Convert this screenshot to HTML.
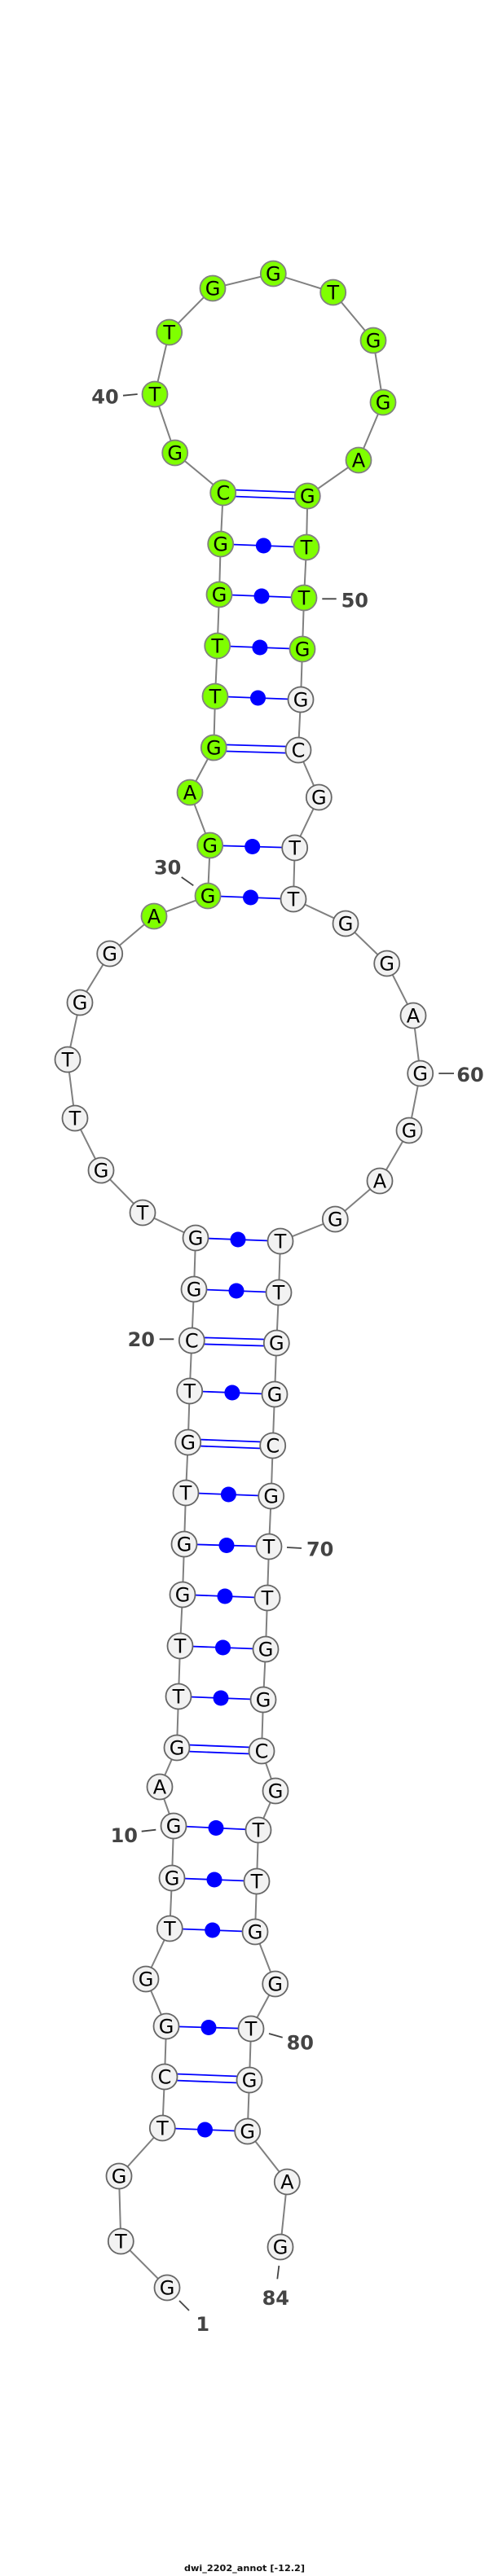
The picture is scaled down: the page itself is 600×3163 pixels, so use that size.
<!DOCTYPE html>
<html><head><meta charset="utf-8"><title>dwi_2202_annot</title>
<style>
html,body{margin:0;padding:0;background:#fff;width:600px;height:3163px;overflow:hidden}
svg{display:block}
.b{fill:none;stroke:#808080;stroke-width:2}
.p{stroke:#0000ff;stroke-width:1.8;fill:none}
.d{fill:#0000ff}
.w circle{fill:#f2f2f2;stroke:#666;stroke-width:1.8}
.g circle{fill:#7fff00;stroke:#808080;stroke-width:1.8}
.n text{font:24px "DejaVu Sans",sans-serif;fill:#000;text-anchor:middle}
.t{stroke:#444;stroke-width:1.8}
.l text{font:bold 24px "DejaVu Sans",sans-serif;fill:#444;text-anchor:middle}
.c{font:bold 11px "DejaVu Sans",sans-serif;fill:#111}
</style></head><body>
<svg width="600" height="3163" viewBox="0 0 600 3163" xmlns="http://www.w3.org/2000/svg">
<rect width="600" height="3163" fill="#fff"/>
<polyline class="b" points="205,2809 148.3,2752 146,2672 199.3,2613 202,2550 204,2488 179,2430 208.3,2368 211,2306 213,2242 196,2194 217,2146 219,2083 221,2021 224,1958 226,1896 228,1833 230.7,1771 232.7,1708 235.3,1646 238,1583 240,1520 175,1489 124,1437 92,1373 83,1301 98,1231 134.7,1171 189,1125 255,1100 257.7,1038 233,973 262.3,918 264,855 266.7,793 269,730 270.7,668 273.7,605 214.7,556 190,484 207.7,408 261,354 335.3,336 408.7,359 458,418 470,494 440,565 377.3,609 376,672 373,734 371,797 369,859 366,921 391.3,979 361.7,1041 360,1104 424,1134 474.7,1183 507,1247 515.7,1318 502,1388 466,1450 411.3,1497 344,1524 342,1587 339.3,1649 337,1712 334.7,1775 332.7,1837 330,1899 328,1962 326,2025 323,2087 321,2150 338,2199 317,2247 315,2310 313,2372 337.7,2436 308,2491 306,2554 303.7,2617 352.3,2679 344,2759"/>
<!-- double pairs -->
<g class="p">
<line x1="273.8" y1="601" x2="377.4" y2="605"/><line x1="273.6" y1="609" x2="377.2" y2="613"/>
<line x1="262.4" y1="914" x2="366.1" y2="917"/><line x1="262.2" y1="922" x2="365.9" y2="925"/>
<line x1="235.4" y1="1642" x2="339.4" y2="1645"/><line x1="235.2" y1="1650" x2="339.2" y2="1653"/>
<line x1="230.8" y1="1767" x2="334.8" y2="1771"/><line x1="230.6" y1="1775" x2="334.6" y2="1779"/>
<line x1="217.1" y1="2142" x2="321.1" y2="2146"/><line x1="216.9" y1="2150" x2="320.9" y2="2154"/>
<line x1="202.1" y1="2546" x2="306.1" y2="2550"/><line x1="201.9" y1="2554" x2="305.9" y2="2558"/>
<!-- dot pairs -->
<line x1="270.7" y1="668" x2="376" y2="672"/>
<line x1="269" y1="730" x2="373" y2="734"/>
<line x1="266.7" y1="793" x2="371" y2="797"/>
<line x1="264" y1="855" x2="369" y2="859"/>
<line x1="257.7" y1="1038" x2="361.7" y2="1041"/>
<line x1="255" y1="1100" x2="360" y2="1104"/>
<line x1="240" y1="1520" x2="344" y2="1524"/>
<line x1="238" y1="1583" x2="342" y2="1587"/>
<line x1="232.7" y1="1708" x2="337" y2="1712"/>
<line x1="228" y1="1833" x2="332.7" y2="1837"/>
<line x1="226" y1="1896" x2="330" y2="1899"/>
<line x1="224" y1="1958" x2="328" y2="1962"/>
<line x1="221" y1="2021" x2="326" y2="2025"/>
<line x1="219" y1="2083" x2="323" y2="2087"/>
<line x1="213" y1="2242" x2="317" y2="2247"/>
<line x1="211" y1="2306" x2="315" y2="2310"/>
<line x1="208.3" y1="2368" x2="313" y2="2372"/>
<line x1="204" y1="2488" x2="308" y2="2491"/>
<line x1="199.3" y1="2613" x2="303.7" y2="2617"/>
</g>
<g class="d">
<circle cx="323.4" cy="670" r="9.5"/>
<circle cx="321" cy="732" r="9.5"/>
<circle cx="318.9" cy="795" r="9.5"/>
<circle cx="316.5" cy="857" r="9.5"/>
<circle cx="309.7" cy="1039.5" r="9.5"/>
<circle cx="307.5" cy="1102" r="9.5"/>
<circle cx="292" cy="1522" r="9.5"/>
<circle cx="290" cy="1585" r="9.5"/>
<circle cx="284.9" cy="1710" r="9.5"/>
<circle cx="280.4" cy="1835" r="9.5"/>
<circle cx="278" cy="1897.5" r="9.5"/>
<circle cx="276" cy="1960" r="9.5"/>
<circle cx="273.5" cy="2023" r="9.5"/>
<circle cx="271" cy="2085" r="9.5"/>
<circle cx="265" cy="2244.5" r="9.5"/>
<circle cx="263" cy="2308" r="9.5"/>
<circle cx="260.7" cy="2370" r="9.5"/>
<circle cx="256" cy="2489.5" r="9.5"/>
<circle cx="251.5" cy="2615" r="9.5"/>
</g>
<!-- unpaired and paired nodes: white -->
<g class="n w">
<circle cx="205" cy="2809" r="15.5"/><text x="205" y="2817.5">G</text>
<circle cx="148.3" cy="2752" r="15.5"/><text x="148.3" y="2760.5">T</text>
<circle cx="146" cy="2672" r="15.5"/><text x="146" y="2680.5">G</text>
<circle cx="199.3" cy="2613" r="15.5"/><text x="199.3" y="2621.5">T</text>
<circle cx="202" cy="2550" r="15.5"/><text x="202" y="2558.5">C</text>
<circle cx="204" cy="2488" r="15.5"/><text x="204" y="2496.5">G</text>
<circle cx="179" cy="2430" r="15.5"/><text x="179" y="2438.5">G</text>
<circle cx="208.3" cy="2368" r="15.5"/><text x="208.3" y="2376.5">T</text>
<circle cx="211" cy="2306" r="15.5"/><text x="211" y="2314.5">G</text>
<circle cx="213" cy="2242" r="15.5"/><text x="213" y="2250.5">G</text>
<circle cx="196" cy="2194" r="15.5"/><text x="196" y="2202.5">A</text>
<circle cx="217" cy="2146" r="15.5"/><text x="217" y="2154.5">G</text>
<circle cx="219" cy="2083" r="15.5"/><text x="219" y="2091.5">T</text>
<circle cx="221" cy="2021" r="15.5"/><text x="221" y="2029.5">T</text>
<circle cx="224" cy="1958" r="15.5"/><text x="224" y="1966.5">G</text>
<circle cx="226" cy="1896" r="15.5"/><text x="226" y="1904.5">G</text>
<circle cx="228" cy="1833" r="15.5"/><text x="228" y="1841.5">T</text>
<circle cx="230.7" cy="1771" r="15.5"/><text x="230.7" y="1779.5">G</text>
<circle cx="232.7" cy="1708" r="15.5"/><text x="232.7" y="1716.5">T</text>
<circle cx="235.3" cy="1646" r="15.5"/><text x="235.3" y="1654.5">C</text>
<circle cx="238" cy="1583" r="15.5"/><text x="238" y="1591.5">G</text>
<circle cx="240" cy="1520" r="15.5"/><text x="240" y="1528.5">G</text>
<circle cx="175" cy="1489" r="15.5"/><text x="175" y="1497.5">T</text>
<circle cx="124" cy="1437" r="15.5"/><text x="124" y="1445.5">G</text>
<circle cx="92" cy="1373" r="15.5"/><text x="92" y="1381.5">T</text>
<circle cx="83" cy="1301" r="15.5"/><text x="83" y="1309.5">T</text>
<circle cx="98" cy="1231" r="15.5"/><text x="98" y="1239.5">G</text>
<circle cx="134.7" cy="1171" r="15.5"/><text x="134.7" y="1179.5">G</text>
<circle cx="369" cy="859" r="15.5"/><text x="369" y="867.5">G</text>
<circle cx="366" cy="921" r="15.5"/><text x="366" y="929.5">C</text>
<circle cx="391.3" cy="979" r="15.5"/><text x="391.3" y="987.5">G</text>
<circle cx="361.7" cy="1041" r="15.5"/><text x="361.7" y="1049.5">T</text>
<circle cx="360" cy="1104" r="15.5"/><text x="360" y="1112.5">T</text>
<circle cx="424" cy="1134" r="15.5"/><text x="424" y="1142.5">G</text>
<circle cx="474.7" cy="1183" r="15.5"/><text x="474.7" y="1191.5">G</text>
<circle cx="507" cy="1247" r="15.5"/><text x="507" y="1255.5">A</text>
<circle cx="515.7" cy="1318" r="15.5"/><text x="515.7" y="1326.5">G</text>
<circle cx="502" cy="1388" r="15.5"/><text x="502" y="1396.5">G</text>
<circle cx="466" cy="1450" r="15.5"/><text x="466" y="1458.5">A</text>
<circle cx="411.3" cy="1497" r="15.5"/><text x="411.3" y="1505.5">G</text>
<circle cx="344" cy="1524" r="15.5"/><text x="344" y="1532.5">T</text>
<circle cx="342" cy="1587" r="15.5"/><text x="342" y="1595.5">T</text>
<circle cx="339.3" cy="1649" r="15.5"/><text x="339.3" y="1657.5">G</text>
<circle cx="337" cy="1712" r="15.5"/><text x="337" y="1720.5">G</text>
<circle cx="334.7" cy="1775" r="15.5"/><text x="334.7" y="1783.5">C</text>
<circle cx="332.7" cy="1837" r="15.5"/><text x="332.7" y="1845.5">G</text>
<circle cx="330" cy="1899" r="15.5"/><text x="330" y="1907.5">T</text>
<circle cx="328" cy="1962" r="15.5"/><text x="328" y="1970.5">T</text>
<circle cx="326" cy="2025" r="15.5"/><text x="326" y="2033.5">G</text>
<circle cx="323" cy="2087" r="15.5"/><text x="323" y="2095.5">G</text>
<circle cx="321" cy="2150" r="15.5"/><text x="321" y="2158.5">C</text>
<circle cx="338" cy="2199" r="15.5"/><text x="338" y="2207.5">G</text>
<circle cx="317" cy="2247" r="15.5"/><text x="317" y="2255.5">T</text>
<circle cx="315" cy="2310" r="15.5"/><text x="315" y="2318.5">T</text>
<circle cx="313" cy="2372" r="15.5"/><text x="313" y="2380.5">G</text>
<circle cx="337.7" cy="2436" r="15.5"/><text x="337.7" y="2444.5">G</text>
<circle cx="308" cy="2491" r="15.5"/><text x="308" y="2499.5">T</text>
<circle cx="306" cy="2554" r="15.5"/><text x="306" y="2562.5">G</text>
<circle cx="303.7" cy="2617" r="15.5"/><text x="303.7" y="2625.5">G</text>
<circle cx="352.3" cy="2679" r="15.5"/><text x="352.3" y="2687.5">A</text>
<circle cx="344" cy="2759" r="15.5"/><text x="344" y="2767.5">G</text>
</g>
<!-- green nodes -->
<g class="n g">
<circle cx="189" cy="1125" r="15.5"/><text x="189" y="1133.5">A</text>
<circle cx="255" cy="1100" r="15.5"/><text x="255" y="1108.5">G</text>
<circle cx="257.7" cy="1038" r="15.5"/><text x="257.7" y="1046.5">G</text>
<circle cx="233" cy="973" r="15.5"/><text x="233" y="981.5">A</text>
<circle cx="262.3" cy="918" r="15.5"/><text x="262.3" y="926.5">G</text>
<circle cx="264" cy="855" r="15.5"/><text x="264" y="863.5">T</text>
<circle cx="266.7" cy="793" r="15.5"/><text x="266.7" y="801.5">T</text>
<circle cx="269" cy="730" r="15.5"/><text x="269" y="738.5">G</text>
<circle cx="270.7" cy="668" r="15.5"/><text x="270.7" y="676.5">G</text>
<circle cx="273.7" cy="605" r="15.5"/><text x="273.7" y="613.5">C</text>
<circle cx="214.7" cy="556" r="15.5"/><text x="214.7" y="564.5">G</text>
<circle cx="190" cy="484" r="15.5"/><text x="190" y="492.5">T</text>
<circle cx="207.7" cy="408" r="15.5"/><text x="207.7" y="416.5">T</text>
<circle cx="261" cy="354" r="15.5"/><text x="261" y="362.5">G</text>
<circle cx="335.3" cy="336" r="15.5"/><text x="335.3" y="344.5">G</text>
<circle cx="408.7" cy="359" r="15.5"/><text x="408.7" y="367.5">T</text>
<circle cx="458" cy="418" r="15.5"/><text x="458" y="426.5">G</text>
<circle cx="470" cy="494" r="15.5"/><text x="470" y="502.5">G</text>
<circle cx="440" cy="565" r="15.5"/><text x="440" y="573.5">A</text>
<circle cx="377.3" cy="609" r="15.5"/><text x="377.3" y="617.5">G</text>
<circle cx="376" cy="672" r="15.5"/><text x="376" y="680.5">T</text>
<circle cx="373" cy="734" r="15.5"/><text x="373" y="742.5">T</text>
<circle cx="371" cy="797" r="15.5"/><text x="371" y="805.5">G</text>
</g>
<!-- ticks -->
<g class="t">
<line x1="151" y1="485.7" x2="168.7" y2="484"/>
<line x1="395.3" y1="735.3" x2="412.7" y2="735.3"/>
<line x1="222.7" y1="1077" x2="237.3" y2="1087.3"/>
<line x1="538.3" y1="1318" x2="557" y2="1318"/>
<line x1="195.7" y1="1644.3" x2="213.3" y2="1644.3"/>
<line x1="352" y1="1900" x2="370" y2="1901"/>
<line x1="173.7" y1="2248.7" x2="191.3" y2="2246.7"/>
<line x1="330" y1="2497" x2="346.7" y2="2501.7"/>
<line x1="342.3" y1="2782" x2="340.3" y2="2798.3"/>
<line x1="220" y1="2825" x2="232" y2="2837"/>
</g>
<g class="l">
<text x="129" y="495.5">40</text>
<text x="435.3" y="745.5">50</text>
<text x="205.7" y="1073.5">30</text>
<text x="577" y="1328">60</text>
<text x="173.3" y="1653">20</text>
<text x="392.7" y="1910.5">70</text>
<text x="152.3" y="2262">10</text>
<text x="368.3" y="2516.5">80</text>
<text x="338.3" y="2830">84</text>
<text x="248.7" y="2862">1</text>
</g>
<text class="c" x="226" y="3157" textLength="148" lengthAdjust="spacingAndGlyphs">dwi_2202_annot [-12.2]</text>
</svg>
</body></html>
